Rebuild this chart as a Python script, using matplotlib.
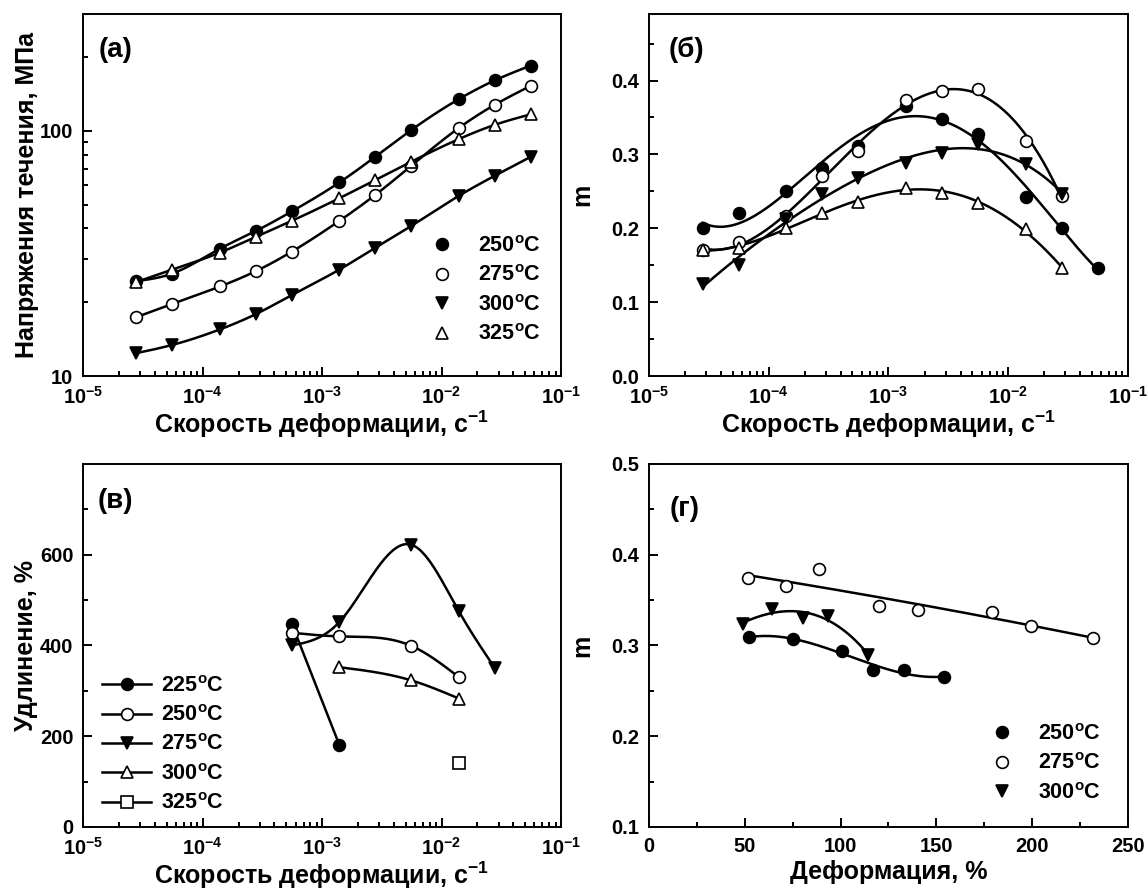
"""Four-panel superplasticity summary: flow stress, m, elongation vs strain rate
and m vs strain. Saves out.png (1147x890)."""

import matplotlib

matplotlib.use("Agg")
import matplotlib.pyplot as plt
import matplotlib.ticker as mticker
from matplotlib.lines import Line2D
import numpy as np

# ---------------------------------------------------------------------------
# Data
# ---------------------------------------------------------------------------

RATES = [2.8e-5, 5.6e-5, 1.4e-4, 2.8e-4, 5.6e-4, 1.4e-3, 2.8e-3, 5.6e-3,
         1.4e-2, 2.8e-2, 5.6e-2]

# (а) flow stress, MPa
STRESS_250 = [24.4, 26.2, 33.1, 39.1, 47.0, 61.7, 78.6, 101, 135, 161, 185]
STRESS_275 = [17.4, 19.7, 23.2, 26.8, 32.2, 43.0, 54.9, 72.2, 103, 128, 153]
STRESS_300 = [12.4, 13.4, 15.5, 17.9, 21.4, 27.2, 33.4, 41.0, 54.4, 65.7, 78.5]
STRESS_325 = [24.2, 27.2, 31.9, 37.0, 43.0, 53.2, 63.1, 75.0, 92.7, 106, 117]

# (б) strain-rate sensitivity m
M_250 = [0.200, 0.221, 0.250, 0.281, 0.312, 0.365, 0.348, 0.328, 0.242, 0.201, 0.146]
M_275 = [0.171, 0.182, 0.216, 0.271, 0.305, 0.373, 0.386, 0.388, 0.318, 0.244]
M_300 = [0.125, 0.150, 0.213, 0.247, 0.268, 0.288, 0.302, 0.314, 0.287, 0.247]
M_325 = [0.171, 0.173, 0.201, 0.221, 0.236, 0.255, 0.248, 0.234, 0.199, 0.146]

# (в) elongation, %
ELONG_RATE_225 = [5.6e-4, 1.4e-3]
ELONG_225 = [447, 180]
ELONG_RATE_250 = [5.6e-4, 1.4e-3, 5.6e-3, 1.4e-2]
ELONG_250 = [428, 420, 399, 330]
ELONG_RATE_275 = [5.6e-4, 1.4e-3, 5.6e-3, 1.4e-2, 2.8e-2]
ELONG_275 = [400, 452, 622, 475, 350]
ELONG_RATE_300 = [1.4e-3, 5.6e-3, 1.4e-2]
ELONG_300 = [352, 323, 283]
ELONG_RATE_325 = [1.4e-2]
ELONG_325 = [141]

# (г) m vs strain, %
STRAIN_250 = [52, 75, 101, 117, 133, 154]
MSTRAIN_250 = [0.309, 0.307, 0.294, 0.273, 0.273, 0.265]
STRAIN_275 = [51.5, 71.4, 88.9, 119.8, 140.6, 179.0, 199.5, 231.8]
MSTRAIN_275 = [0.374, 0.366, 0.384, 0.343, 0.339, 0.337, 0.321, 0.308]
STRAIN_300 = [49, 64.3, 80.4, 93.5, 114.2]
MSTRAIN_300 = [0.324, 0.340, 0.330, 0.332, 0.290]

XLABEL_RATE = "Скорость деформации, с$^{\\mathdefault{-1}}$"

plt.rcParams.update({
    "font.family": ["Liberation Sans", "DejaVu Sans"],
    "font.weight": "bold",
    "axes.labelweight": "bold",
    "font.size": 14.5,
    "axes.labelsize": 18,
    "axes.linewidth": 1.4,
    "axes.unicode_minus": False,
    "lines.color": "black",
})

LW = 1.8
MS = 8.5
LEG_FS = 15.5

STYLES = {
    "filled_circle": dict(marker="o", mfc="black", mec="black"),
    "open_circle": dict(marker="o", mfc="white", mec="black"),
    "filled_tri": dict(marker="v", mfc="black", mec="black"),
    "open_tri": dict(marker="^", mfc="white", mec="black"),
    "open_square": dict(marker="s", mfc="white", mec="black"),
}


def deg(t):
    return f"{t}$^{{\\mathdefault{{o}}}}$C"


def natural_spline(x, y, xs):
    """Natural cubic spline through (x, y) evaluated at xs."""
    x = np.asarray(x, float)
    y = np.asarray(y, float)
    n = len(x)
    if n < 3:
        return np.interp(xs, x, y)
    h = np.diff(x)
    A = np.zeros((n, n))
    r = np.zeros(n)
    A[0, 0] = A[-1, -1] = 1
    for i in range(1, n - 1):
        A[i, i - 1] = h[i - 1]
        A[i, i] = 2 * (h[i - 1] + h[i])
        A[i, i + 1] = h[i]
        r[i] = 3 * ((y[i + 1] - y[i]) / h[i] - (y[i] - y[i - 1]) / h[i - 1])
    c = np.linalg.solve(A, r)
    b = (y[1:] - y[:-1]) / h - h * (2 * c[:-1] + c[1:]) / 3
    d = (c[1:] - c[:-1]) / (3 * h)
    idx = np.clip(np.searchsorted(x, xs) - 1, 0, n - 2)
    dx = xs - x[idx]
    return y[idx] + b[idx] * dx + c[idx] * dx ** 2 + d[idx] * dx ** 3


def style_log_x(ax):
    ax.set_xscale("log")
    ax.set_xlim(1e-5, 1e-1)
    ax.xaxis.set_major_locator(mticker.LogLocator(base=10, numticks=10))
    ax.xaxis.set_minor_locator(mticker.LogLocator(base=10, subs=np.arange(2, 10), numticks=10))
    ax.xaxis.set_minor_formatter(mticker.NullFormatter())
    ax.set_xlabel(XLABEL_RATE, labelpad=0.5)


def style_ticks(ax):
    ax.tick_params(which="both", direction="in", top=False, right=False, width=1.4)
    ax.tick_params(which="major", length=6.5, pad=7)
    ax.tick_params(which="minor", length=3.8)


def panel_label(ax, text, x=0.032, y=0.90):
    ax.text(x, y, text, transform=ax.transAxes, fontsize=20,
            fontweight="bold", va="center", ha="left")


def spline_line(ax, x, y, logy=False, style="filled_circle"):
    lx = np.log10(x)
    xs = np.linspace(lx[0], lx[-1], 300)
    yy = np.log10(y) if logy else np.asarray(y, float)
    ys = natural_spline(lx, yy, xs)
    if logy:
        ys = 10 ** ys
    ax.plot(10 ** xs, ys, color="black", lw=LW, zorder=2)
    ax.plot(x, y, ls="none", ms=MS, mew=1.2, zorder=3, **STYLES[style])


def poly_line(ax, x, y, deg_, style, logx=False):
    xv = np.log10(x) if logx else np.asarray(x, float)
    coef = np.polyfit(xv, y, deg_)
    xs = np.linspace(xv[0], xv[-1], 300)
    ax.plot(10 ** xs if logx else xs, np.polyval(coef, xs), color="black", lw=LW, zorder=2)
    ax.plot(x, y, ls="none", ms=MS, mew=1.2, zorder=3, **STYLES[style])


def add_legend(ax, styles, labels, anchor, with_line=False, handlelength=1.0,
               handletextpad=1.17):
    handles = [Line2D([], [], color="black", ls="-" if with_line else "none",
                      lw=LW, ms=MS, mew=1.2, **STYLES[s]) for s in styles]
    ax.legend(handles, labels, loc="center left", bbox_to_anchor=anchor,
              frameon=False, borderpad=0, borderaxespad=0,
              handlelength=handlelength, handletextpad=handletextpad,
              labelspacing=0.39, fontsize=LEG_FS)


def main():
    fig = plt.figure(figsize=(11.47, 8.90), dpi=100)
    ax_a = fig.add_axes([0.0724, 0.5775, 0.4167, 0.4067])
    ax_b = fig.add_axes([0.5658, 0.5775, 0.4176, 0.4067])
    ax_c = fig.add_axes([0.0724, 0.0708, 0.4167, 0.4079])
    ax_d = fig.add_axes([0.5658, 0.0708, 0.4176, 0.4079])

    # ---- (а) flow stress ----
    for vals, st in [(STRESS_250, "filled_circle"), (STRESS_275, "open_circle"),
                     (STRESS_300, "filled_tri"), (STRESS_325, "open_tri")]:
        spline_line(ax_a, RATES, vals, logy=True, style=st)
    style_log_x(ax_a)
    ax_a.set_yscale("log")
    ax_a.set_ylim(10, 300)
    ax_a.yaxis.set_major_locator(mticker.FixedLocator([10, 100]))
    ax_a.yaxis.set_major_formatter(mticker.FormatStrFormatter("%d"))
    ax_a.yaxis.set_minor_locator(mticker.LogLocator(base=10, subs=np.arange(2, 10), numticks=10))
    ax_a.yaxis.set_minor_formatter(mticker.NullFormatter())
    ax_a.set_ylabel("Напряжения течения, МПа", labelpad=1)
    style_ticks(ax_a)
    panel_label(ax_a, "(а)")
    add_legend(ax_a, ["filled_circle", "open_circle", "filled_tri", "open_tri"],
               [deg(250), deg(275), deg(300), deg(325)], anchor=(0.7285, 0.236))

    # ---- (б) m vs strain rate ----
    for vals, st in [(M_250, "filled_circle"), (M_275, "open_circle"),
                     (M_300, "filled_tri"), (M_325, "open_tri")]:
        poly_line(ax_b, RATES[:len(vals)], vals, 4, st, logx=True)
    style_log_x(ax_b)
    ax_b.set_ylim(0, 0.49)
    ax_b.yaxis.set_major_locator(mticker.MultipleLocator(0.1))
    ax_b.yaxis.set_minor_locator(mticker.MultipleLocator(0.05))
    ax_b.yaxis.set_major_formatter(mticker.FormatStrFormatter("%.1f"))
    ax_b.set_ylabel("m", labelpad=12)
    style_ticks(ax_b)
    panel_label(ax_b, "(б)", x=0.04)

    # ---- (в) elongation ----
    spline_line(ax_c, ELONG_RATE_225, ELONG_225, style="filled_circle")
    spline_line(ax_c, ELONG_RATE_250, ELONG_250, style="open_circle")
    spline_line(ax_c, ELONG_RATE_275, ELONG_275, style="filled_tri")
    spline_line(ax_c, ELONG_RATE_300, ELONG_300, style="open_tri")
    ax_c.plot(ELONG_RATE_325, ELONG_325, ls="none", ms=MS, mew=1.2, **STYLES["open_square"])
    style_log_x(ax_c)
    ax_c.set_ylim(0, 800)
    ax_c.yaxis.set_major_locator(mticker.FixedLocator([0, 200, 400, 600]))
    ax_c.yaxis.set_minor_locator(mticker.FixedLocator([100, 300, 500, 700]))
    ax_c.set_ylabel("Удлинение, %", labelpad=1.5)
    style_ticks(ax_c)
    panel_label(ax_c, "(в)", x=0.03, y=0.898)
    add_legend(ax_c, ["filled_circle", "open_circle", "filled_tri", "open_tri", "open_square"],
               [deg(225), deg(250), deg(275), deg(300), deg(325)], anchor=(0.0397, 0.226),
               with_line=True, handlelength=2.28, handletextpad=0.47)

    # ---- (г) m vs strain ----
    poly_line(ax_d, STRAIN_250, MSTRAIN_250, 3, "filled_circle")
    poly_line(ax_d, STRAIN_275, MSTRAIN_275, 2, "open_circle")
    poly_line(ax_d, STRAIN_300, MSTRAIN_300, 3, "filled_tri")
    ax_d.set_xlim(0, 250)
    ax_d.set_ylim(0.1, 0.5)
    ax_d.xaxis.set_major_locator(mticker.MultipleLocator(50))
    ax_d.xaxis.set_minor_locator(mticker.MultipleLocator(25))
    ax_d.yaxis.set_major_locator(mticker.MultipleLocator(0.1))
    ax_d.yaxis.set_minor_locator(mticker.MultipleLocator(0.05))
    ax_d.yaxis.set_major_formatter(mticker.FormatStrFormatter("%.1f"))
    ax_d.set_xlabel("Деформация, %", labelpad=3)
    ax_d.set_ylabel("m", labelpad=12)
    style_ticks(ax_d)
    panel_label(ax_d, "(г)", x=0.044, y=0.876)
    add_legend(ax_d, ["filled_circle", "open_circle", "filled_tri"],
               [deg(250), deg(275), deg(300)], anchor=(0.714, 0.174))

    fig.savefig("out.png", dpi=100)
    plt.close(fig)


if __name__ == "__main__":
    main()
